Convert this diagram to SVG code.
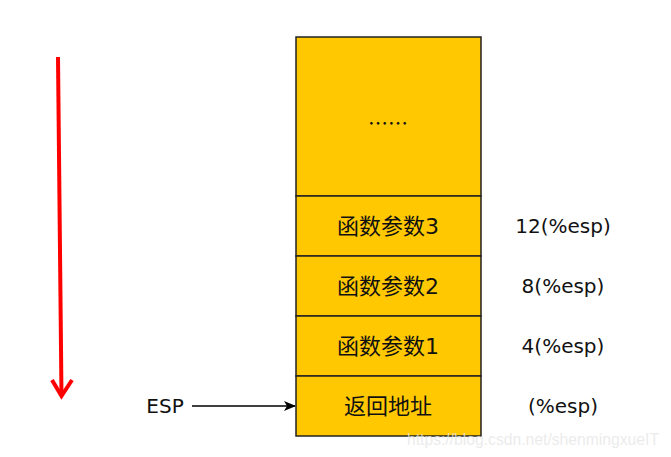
<svg xmlns="http://www.w3.org/2000/svg" width="671" height="457" viewBox="0 0 671 457">
<style>
.cell{fill:#FFC800;stroke:#222;stroke-width:1.5}
.cjk{font-family:"DejaVu Sans","Noto Sans CJK SC",sans-serif;font-size:22px;fill:#111;text-anchor:middle}
.lbl{font-family:"DejaVu Sans",sans-serif;font-size:20px;fill:#111;text-anchor:middle}
</style>
<defs>
<marker id="ah" markerWidth="12" markerHeight="10" refX="11" refY="5" orient="auto" markerUnits="userSpaceOnUse">
<path d="M0,0 L12,5 L0,10 L3,5 Z" fill="#000"/>
</marker>
</defs>
<rect width="671" height="457" fill="#fff"/>
<g id="connectors">
<line x1="58" y1="57" x2="61.5" y2="396" stroke="#FF0000" stroke-width="4"/>
<polyline points="52,380 61.5,396 72,380" fill="none" stroke="#FF0000" stroke-width="4"/>
<line x1="192" y1="406" x2="295" y2="406" stroke="#000" stroke-width="1.5" marker-end="url(#ah)"/>
</g>
<g id="cell-dots"><rect class="cell" x="296" y="37" width="185" height="159"/><text x="388" y="131" font-family="Noto Sans CJK SC, sans-serif" font-size="20" fill="#111" text-anchor="middle">……</text></g>
<g id="cell-arg3"><rect class="cell" x="296" y="196" width="185" height="60"/><text class="cjk" x="388" y="234">函数参数3</text></g>
<g id="cell-arg2"><rect class="cell" x="296" y="256" width="185" height="60"/><text class="cjk" x="388" y="294">函数参数2</text></g>
<g id="cell-arg1"><rect class="cell" x="296" y="316" width="185" height="60"/><text class="cjk" x="388" y="354">函数参数1</text></g>
<g id="cell-ret"><rect class="cell" x="296" y="376" width="185" height="60"/><text class="cjk" x="388" y="414">返回地址</text></g>
<g id="labels">
<text class="lbl" x="563" y="233">12(%esp)</text>
<text class="lbl" x="563" y="293">8(%esp)</text>
<text class="lbl" x="563" y="353">4(%esp)</text>
<text class="lbl" x="563" y="413">(%esp)</text>
<text class="lbl" x="165" y="413">ESP</text>
</g>
<text x="407" y="445" textLength="252" lengthAdjust="spacingAndGlyphs" font-family="Liberation Sans, Arial, sans-serif" font-size="16" fill="#e6e6e6" fill-opacity="0.8">https://blog.csdn.net/shenmingxueIT</text>
</svg>
